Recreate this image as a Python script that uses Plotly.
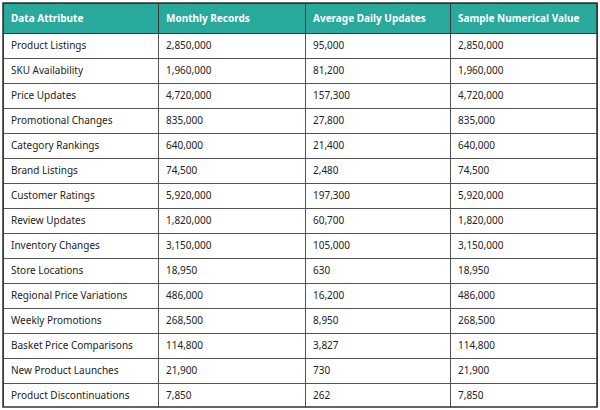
import plotly.graph_objects as go

# Column headers
headers = ["Data Attribute", "Monthly Records", "Average Daily Updates", "Sample Numerical Value"]

# Table values
attributes = [
    "Product Listings", "SKU Availability", "Price Updates", "Promotional Changes",
    "Category Rankings", "Brand Listings", "Customer Ratings", "Review Updates",
    "Inventory Changes", "Store Locations", "Regional Price Variations",
    "Weekly Promotions", "Basket Price Comparisons", "New Product Launches",
    "Product Discontinuations",
]
monthly_records = [2850000, 1960000, 4720000, 835000, 640000, 74500, 5920000, 1820000,
                   3150000, 18950, 486000, 268500, 114800, 21900, 7850]
daily_updates = [95000, 81200, 157300, 27800, 21400, 2480, 197300, 60700,
                 105000, 630, 16200, 8950, 3827, 730, 262]
sample_values = [2850000, 1960000, 4720000, 835000, 640000, 74500, 5920000, 1820000,
                 3150000, 18950, 486000, 268500, 114800, 21900, 7850]


def fmt(vals):
    return [f"{v:,}" for v in vals]


fig = go.Figure(go.Table(
    columnwidth=[155, 147, 145, 147],
    header=dict(
        values=[f"<b>{h}</b>" for h in headers],
        fill_color="#28a99c",
        font=dict(color="white", size=10, family="Noto Sans"),
        align="left",
        line=dict(color="#3a3a3a", width=1),
        height=29,
    ),
    cells=dict(
        values=[attributes, fmt(monthly_records), fmt(daily_updates), fmt(sample_values)],
        fill_color="white",
        font=dict(color="#222222", size=10, family="Noto Sans"),
        align="left",
        line=dict(color="#555555", width=1),
        height=25,
    ),
))

fig.update_layout(
    width=600, height=410,
    margin=dict(l=3, r=3, t=3, b=3),
    paper_bgcolor="white",
    # dark outer frame around the table
    shapes=[dict(type="rect", xref="paper", yref="paper", x0=0, x1=1, y0=0, y1=1,
                 line=dict(color="#333333", width=1.5))],
)
# drop the browser's default body margin so the figure sits at the page corner
fig.write_html("out.html", config={"displayModeBar": False},
               post_script="document.body.style.margin='0px';")
